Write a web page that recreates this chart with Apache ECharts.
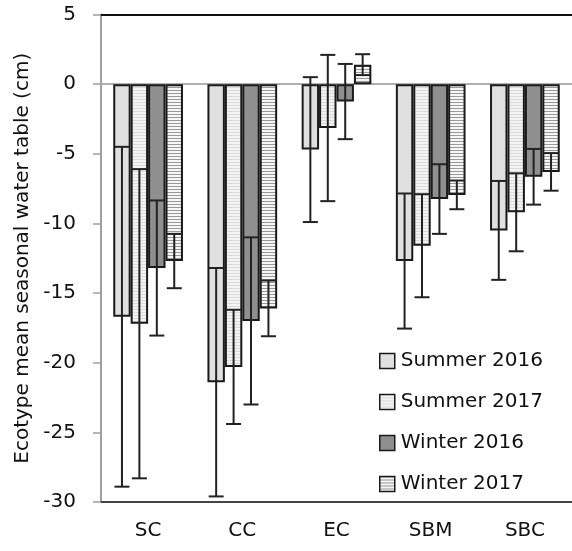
<!DOCTYPE html>
<html>
<head>
<meta charset="utf-8">
<script src="https://cdn.jsdelivr.net/npm/echarts@6/dist/echarts.min.js"></script>
<style>html,body{margin:0;padding:0;background:#fff;}#c{width:572px;height:551px;}</style>
</head>
<body>
<div id="c"></div>
<script>
const categories = ['SC', 'CC', 'EC', 'SBM', 'SBC'];
const seriesNames = ['Summer 2016', 'Summer 2017', 'Winter 2016', 'Winter 2017'];
const summer2016 = [-16.7, -21.4, -4.7, -12.7, -10.5];
const summer2016Err = [12.2, 8.2, 5.2, 4.85, 3.55];
const summer2017 = [-17.2, -20.3, -3.15, -11.6, -9.2];
const summer2017Err = [11.1, 4.1, 5.25, 3.7, 2.8];
const winter2016 = [-13.2, -17.0, -1.25, -8.25, -6.65];
const winter2016Err = [4.85, 6.0, 2.7, 2.5, 2.0];
const winter2017 = [-12.7, -16.1, 1.4, -7.95, -6.3];
const winter2017Err = [1.95, 2.0, 0.75, 1.03, 1.35];
const yTicks = [5, 0, -5, -10, -15, -20, -25, -30];

const means = [summer2016, summer2017, winter2016, winter2017];
const errs = [summer2016Err, summer2017Err, winter2016Err, winter2017Err];

function stripes(bg, line, period) {
  const c = document.createElement('canvas');
  c.width = 4; c.height = period;
  const g = c.getContext('2d');
  g.fillStyle = bg; g.fillRect(0, 0, 4, period);
  g.fillStyle = line; g.fillRect(0, 0, 4, 1);
  return c;
}
const fills = [
  '#e0e0e0',
  { image: stripes('#f3f3f3', '#dadada', 3), repeat: 'repeat' },
  '#8f8f8f',
  { image: stripes('#f6f6f6', '#999999', 3), repeat: 'repeat' }
];

const FONT = 'DejaVu Sans';
const CAT_GAP = 0.26;

const series = [];
means.forEach((arr, i) => {
  const s = {
    name: seriesNames[i],
    type: 'bar',
    data: arr,
    barGap: '0%',
    barCategoryGap: (CAT_GAP * 100) + '%',
    itemStyle: { color: fills[i], borderColor: '#1a1a1a', borderWidth: 2 },
    emphasis: { disabled: true },
    z: 2
  };
  if (i === 0) {
    s.markLine = {
      silent: true, symbol: 'none', label: { show: false },
      lineStyle: { color: '#b0b0b0', width: 2, type: 'solid' },
      data: [{ yAxis: 0 }],
      z: 1
    };
  }
  series.push(s);
});

means.forEach((arr, i) => {
  series.push({
    type: 'custom',
    name: seriesNames[i] + ' err',
    z: 5,
    silent: true,
    data: arr.map((m, k) => [k, m, errs[i][k]]),
    renderItem: function (params, api) {
      const k = api.value(0), m = api.value(1), sd = api.value(2);
      const band = api.size([1, 0])[0];
      const bw = band * (1 - CAT_GAP) / 4;
      const x = api.coord([k, 0])[0] + (i - 1.5) * bw;
      const y1 = api.coord([k, m + sd])[1];
      const y2 = api.coord([k, m - sd])[1];
      const hw = 7.5;
      const st = { stroke: '#222', lineWidth: 2 };
      return {
        type: 'group',
        children: [
          { type: 'line', shape: { x1: x, y1: y1, x2: x, y2: y2 }, style: st },
          { type: 'line', shape: { x1: x - hw, y1: y1, x2: x + hw, y2: y1 }, style: st },
          { type: 'line', shape: { x1: x - hw, y1: y2, x2: x + hw, y2: y2 }, style: st }
        ]
      };
    }
  });
});

const chart = echarts.init(document.getElementById('c'), null, { renderer: 'canvas' });
chart.setOption({
  animation: false,
  backgroundColor: '#fff',
  textStyle: { fontFamily: FONT },
  grid: { left: 101, top: 14.5, width: 474, height: 487.5, containLabel: false },
  legend: {
    data: seriesNames,
    orient: 'vertical',
    icon: 'rect',
    left: 374,
    top: 346,
    itemWidth: 15,
    itemHeight: 15,
    itemGap: 21,
    itemStyle: { borderColor: '#1a1a1a', borderWidth: 1.5 },
    textStyle: { fontFamily: FONT, fontSize: 20, color: '#111', lineHeight: 20, padding: [0, 0, 0, 1] },
    selectedMode: false
  },
  xAxis: [{
    type: 'category',
    data: categories,
    position: 'bottom',
    axisLine: { onZero: false, lineStyle: { color: '#444', width: 2 } },
    axisTick: { show: false },
    axisLabel: { fontFamily: FONT, fontSize: 20, color: '#111', margin: 19 },
    splitLine: { show: false }
  }, {
    type: 'category',
    data: categories,
    position: 'top',
    axisLine: { onZero: false, lineStyle: { color: '#111', width: 2 } },
    axisTick: { show: false },
    axisLabel: { show: false },
    splitLine: { show: false }
  }],
  yAxis: {
    type: 'value',
    min: -30,
    max: 5,
    interval: 5,
    name: 'Ecotype mean seasonal water table (cm)',
    nameLocation: 'middle',
    nameGap: 67,
    nameTextStyle: { fontFamily: FONT, fontSize: 20, color: '#111' },
    axisLine: { show: true, lineStyle: { color: '#a0a0a0', width: 2 } },
    axisTick: { show: true, length: 8, lineStyle: { color: '#a0a0a0', width: 1.5 } },
    axisLabel: {
      fontFamily: FONT, fontSize: 20, color: '#111', margin: 25,
      formatter: function (v) { return yTicks.indexOf(v) >= 0 ? String(v) : ''; }
    },
    splitLine: { show: false }
  },
  series: series
});
</script>
</body>
</html>
